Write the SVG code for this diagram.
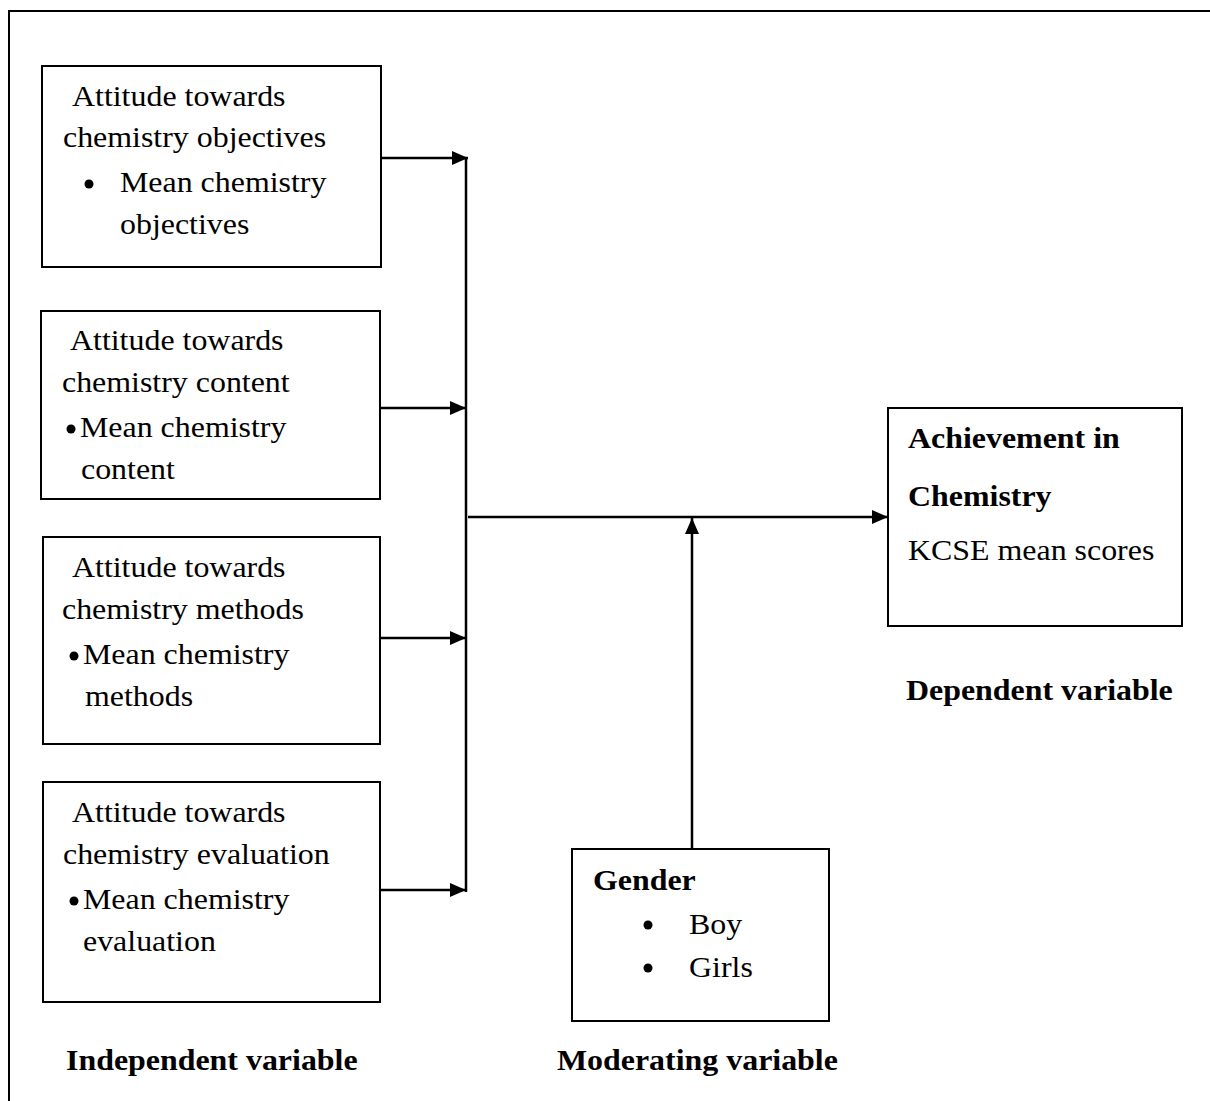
<svg xmlns="http://www.w3.org/2000/svg" width="1210" height="1101" viewBox="0 0 1210 1101">
<defs>
<marker id="ah" viewBox="0 0 16 14" refX="16" refY="7" markerWidth="16" markerHeight="14" markerUnits="userSpaceOnUse" orient="auto">
<path d="M0,0 L16,7 L0,14 Z" fill="#000"/>
</marker>
</defs>
<style>
text{font-family:"Liberation Serif","Times New Roman",serif;font-size:29.5px;fill:#000}
.b{font-weight:bold}
.box{fill:#fff;stroke:#000;stroke-width:2}
.ln{fill:none;stroke:#000;stroke-width:2.5}
.sx{transform:scale(1.082,1)}
</style>
<rect width="1210" height="1101" fill="#fff"/>
<path d="M9,1101 V11 H1210" fill="none" stroke="#000" stroke-width="2"/>

<g id="connectors">
<line class="ln" x1="381" y1="158" x2="468" y2="158" marker-end="url(#ah)"/>
<line class="ln" x1="380" y1="408" x2="466" y2="408" marker-end="url(#ah)"/>
<line class="ln" x1="380" y1="638" x2="466" y2="638" marker-end="url(#ah)"/>
<line class="ln" x1="380" y1="890" x2="466" y2="890" marker-end="url(#ah)"/>
<line class="ln" x1="466" y1="158" x2="466" y2="892"/>
<line class="ln" x1="468" y1="517" x2="888" y2="517" marker-end="url(#ah)"/>
<line class="ln" x1="692" y1="849" x2="692" y2="518" marker-end="url(#ah)"/>
</g>

<g id="node-objectives">
<rect class="box" x="42" y="66" width="339" height="201"/>
<circle cx="89" cy="184" r="4.5"/>
<g class="sx">
<text x="66.54" y="106">Attitude towards</text>
<text x="58.23" y="147">chemistry objectives</text>
<text x="110.91" y="192">Mean chemistry</text>
<text x="110.91" y="234">objectives</text>
</g>
</g>

<g id="node-content">
<rect class="box" x="41" y="311" width="339" height="188"/>
<circle cx="71" cy="429" r="4.5"/>
<g class="sx">
<text x="64.70" y="350">Attitude towards</text>
<text x="57.30" y="392">chemistry content</text>
<text x="73.94" y="437">Mean chemistry</text>
<text x="74.86" y="479">content</text>
</g>
</g>

<g id="node-methods">
<rect class="box" x="43" y="537" width="337" height="207"/>
<circle cx="74" cy="656" r="4.5"/>
<g class="sx">
<text x="66.54" y="577">Attitude towards</text>
<text x="57.30" y="619">chemistry methods</text>
<text x="76.71" y="664">Mean chemistry</text>
<text x="78.56" y="706">methods</text>
</g>
</g>

<g id="node-evaluation">
<rect class="box" x="43" y="782" width="337" height="220"/>
<circle cx="74" cy="901" r="4.5"/>
<g class="sx">
<text x="66.54" y="822">Attitude towards</text>
<text x="58.23" y="864">chemistry evaluation</text>
<text x="76.71" y="909">Mean chemistry</text>
<text x="76.71" y="951">evaluation</text>
</g>
</g>

<g id="node-achievement">
<rect class="box" x="888" y="408" width="294" height="218"/>
<g class="sx">
<text class="b" x="839.19" y="448">Achievement in</text>
<text class="b" x="839.19" y="506">Chemistry</text>
<text x="839.19" y="560">KCSE mean scores</text>
</g>
</g>

<g id="node-gender">
<rect class="box" x="572" y="849" width="257" height="172"/>
<circle cx="648" cy="925" r="4.5"/>
<circle cx="648" cy="968" r="4.5"/>
<g class="sx">
<text class="b" x="548.06" y="890">Gender</text>
<text x="636.78" y="934">Boy</text>
<text x="636.78" y="977">Girls</text>
</g>
</g>

<g id="labels" class="sx">
<text class="b" x="61.00" y="1070">Independent variable</text>
<text class="b" x="514.79" y="1070">Moderating variable</text>
<text class="b" x="837.34" y="700">Dependent variable</text>
</g>
</svg>
